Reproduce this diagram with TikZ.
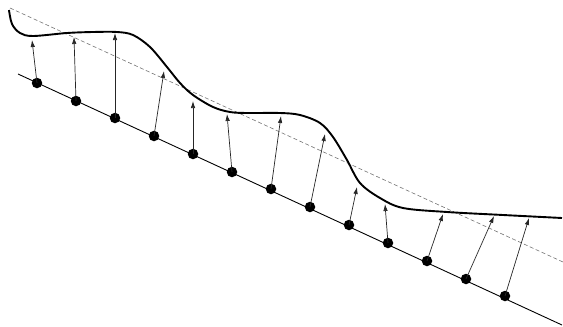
\documentclass[tikz,border=0pt]{standalone}
\usetikzlibrary{arrows.meta}
\begin{document}
\begin{tikzpicture}[x=1pt,y=-1pt,
  dotnode/.style={circle,fill=black,inner sep=0pt,minimum size=10.5pt},
  vec/.style={draw=black!85,line width=0.7pt,-{Latex[length=7pt,width=4.5pt]}},
  curveline/.style={line width=1.9pt,black},
  baseline/.style={line width=0.9pt,black},
  refline/.style={line width=0.6pt,black!55,dash pattern=on 4pt off 2.5pt}]
\useasboundingbox (0,0) rectangle (563,327);
\coordinate (b0) at (18,74);
\coordinate (b1) at (562,325);
\coordinate (r0) at (10,8);
\coordinate (r1) at (563,262);
\draw[refline] (r0) -- (r1);
\draw[baseline] (b0) -- (b1);
\draw[curveline] plot[smooth,tension=0.55] coordinates {
 (9,10) (12,24) (20,33) (33,36) (67,33) (93,32) (117,32) (133,35) (150,47)
 (167,67) (180,83) (193,95) (213,107) (230,112) (247,113) (280,113) (300,115)
 (320,123) (333,137) (347,160) (360,183) (380,198) (403,208) (447,212)
 (503,215) (562,218)};
\foreach \i/\dx/\dy/\tx/\ty in {
 1/37/83/32/40, 2/76/101/74/37, 3/115/118/115/33, 4/154/136/164/71,
 5/193/154/193/101, 6/232/172/227/114, 7/271/189/281/116, 8/310/207/325/134,
 9/349/225/357/187, 10/388/243/385/204, 11/427/261/443/214, 12/466/279/494/216,
 13/505/296/529/218} {
  \node[dotnode] (d\i) at (\dx,\dy) {};
  \coordinate (t\i) at (\tx,\ty);
  \draw[vec] (d\i.center) -- (t\i);
}
\end{tikzpicture}
\end{document}
